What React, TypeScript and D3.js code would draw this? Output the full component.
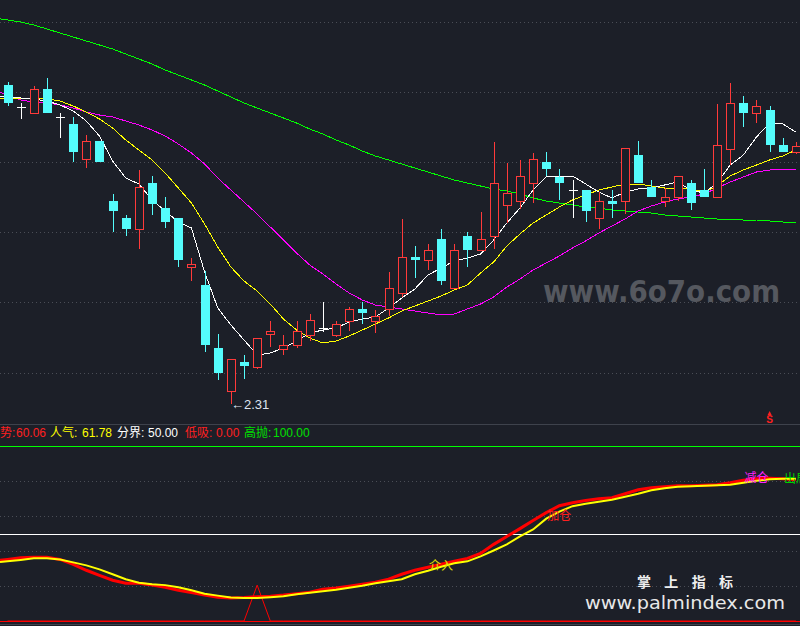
import * as d3 from 'd3';

// 61 daily bars, prices
const OPEN = [2.629, 2.607, 2.601, 2.625, 2.597, 2.590, 2.555, 2.573, 2.513, 2.496, 2.485, 2.531, 2.506, 2.496, 2.447, 2.429, 2.366, 2.323, 2.352, 2.347, 2.380, 2.365, 2.369, 2.379, 2.386, 2.379, 2.393, 2.405, 2.393, 2.405, 2.421, 2.457, 2.454, 2.475, 2.426, 2.478, 2.464, 2.478, 2.509, 2.513, 2.531, 2.552, 2.537, 2.524, 2.524, 2.496, 2.513, 2.513, 2.559, 2.527, 2.513, 2.517, 2.531, 2.524, 2.517, 2.565, 2.611, 2.601, 2.604, 2.569, 2.562];
const HIGH = [2.632, 2.611, 2.628, 2.636, 2.601, 2.597, 2.579, 2.573, 2.520, 2.499, 2.544, 2.538, 2.517, 2.496, 2.456, 2.443, 2.380, 2.355, 2.359, 2.376, 2.393, 2.379, 2.393, 2.400, 2.412, 2.393, 2.407, 2.412, 2.404, 2.442, 2.495, 2.468, 2.470, 2.485, 2.470, 2.482, 2.502, 2.572, 2.551, 2.554, 2.561, 2.562, 2.545, 2.534, 2.524, 2.522, 2.524, 2.566, 2.573, 2.534, 2.526, 2.538, 2.534, 2.545, 2.610, 2.631, 2.618, 2.614, 2.608, 2.576, 2.572];
const LOW = [2.608, 2.595, 2.601, 2.601, 2.576, 2.552, 2.546, 2.552, 2.482, 2.478, 2.465, 2.499, 2.486, 2.447, 2.433, 2.362, 2.334, 2.310, 2.335, 2.345, 2.367, 2.359, 2.366, 2.373, 2.382, 2.377, 2.383, 2.390, 2.381, 2.398, 2.417, 2.436, 2.444, 2.429, 2.426, 2.447, 2.464, 2.465, 2.491, 2.505, 2.511, 2.538, 2.514, 2.496, 2.492, 2.485, 2.496, 2.500, 2.531, 2.517, 2.507, 2.513, 2.504, 2.517, 2.517, 2.549, 2.587, 2.591, 2.562, 2.562, 2.560];
const CLOSE = [2.611, 2.607, 2.625, 2.601, 2.597, 2.562, 2.573, 2.552, 2.503, 2.485, 2.527, 2.510, 2.492, 2.454, 2.450, 2.369, 2.341, 2.355, 2.348, 2.376, 2.383, 2.369, 2.383, 2.394, 2.386, 2.390, 2.405, 2.401, 2.398, 2.426, 2.457, 2.454, 2.464, 2.433, 2.464, 2.464, 2.475, 2.531, 2.521, 2.538, 2.555, 2.545, 2.531, 2.524, 2.503, 2.513, 2.510, 2.566, 2.531, 2.517, 2.517, 2.538, 2.511, 2.517, 2.569, 2.611, 2.601, 2.608, 2.569, 2.562, 2.568];

// moving averages
const MA5 = [2.617, 2.616, 2.615, 2.613, 2.609, 2.603, 2.593, 2.578, 2.553, 2.536, 2.530, 2.514, 2.503, 2.492, 2.486, 2.442, 2.406, 2.389, 2.374, 2.359, 2.361, 2.366, 2.373, 2.381, 2.384, 2.386, 2.392, 2.395, 2.397, 2.406, 2.416, 2.425, 2.439, 2.446, 2.453, 2.456, 2.460, 2.474, 2.491, 2.506, 2.524, 2.537, 2.538, 2.538, 2.530, 2.522, 2.516, 2.522, 2.525, 2.526, 2.529, 2.532, 2.524, 2.521, 2.531, 2.549, 2.559, 2.577, 2.591, 2.590, 2.582];
const MA10 = [2.616, 2.616, 2.616, 2.615, 2.613, 2.608, 2.602, 2.595, 2.586, 2.574, 2.564, 2.554, 2.541, 2.526, 2.511, 2.490, 2.467, 2.447, 2.433, 2.423, 2.410, 2.395, 2.384, 2.376, 2.371, 2.373, 2.378, 2.384, 2.390, 2.396, 2.403, 2.408, 2.413, 2.418, 2.424, 2.429, 2.441, 2.452, 2.468, 2.480, 2.491, 2.499, 2.507, 2.514, 2.519, 2.524, 2.527, 2.530, 2.530, 2.528, 2.526, 2.526, 2.525, 2.522, 2.528, 2.538, 2.544, 2.549, 2.554, 2.558, 2.564];
const MA20 = [2.619, 2.614, 2.612, 2.611, 2.609, 2.606, 2.602, 2.599, 2.597, 2.593, 2.589, 2.584, 2.578, 2.570, 2.561, 2.550, 2.536, 2.524, 2.512, 2.500, 2.487, 2.474, 2.461, 2.449, 2.440, 2.430, 2.421, 2.414, 2.409, 2.407, 2.405, 2.403, 2.401, 2.399, 2.400, 2.405, 2.410, 2.417, 2.427, 2.435, 2.444, 2.451, 2.458, 2.466, 2.473, 2.481, 2.488, 2.495, 2.503, 2.508, 2.512, 2.515, 2.517, 2.520, 2.526, 2.532, 2.537, 2.542, 2.544, 2.545, 2.545];
const MA60 = [2.694, 2.692, 2.689, 2.685, 2.681, 2.677, 2.673, 2.669, 2.665, 2.660, 2.655, 2.650, 2.644, 2.639, 2.634, 2.629, 2.623, 2.617, 2.611, 2.606, 2.601, 2.596, 2.591, 2.585, 2.580, 2.574, 2.569, 2.563, 2.558, 2.554, 2.550, 2.546, 2.542, 2.538, 2.534, 2.531, 2.528, 2.525, 2.523, 2.520, 2.516, 2.513, 2.511, 2.509, 2.507, 2.506, 2.504, 2.503, 2.502, 2.501, 2.499, 2.498, 2.497, 2.496, 2.495, 2.495, 2.494, 2.494, 2.493, 2.492, 2.491];

// indicator panel (0..100)
const TREND = [35.2, 36.1, 36.4, 36.4, 35.2, 32.4, 29.0, 26.1, 23.3, 21.6, 21.6, 20.5, 19.3, 17.6, 16.2, 14.8, 13.6, 13.1, 13.4, 13.9, 14.2, 14.8, 15.6, 16.5, 18.2, 18.8, 19.9, 21.0, 22.2, 23.9, 26.7, 29.0, 30.7, 32.4, 34.1, 35.8, 38.6, 43.8, 48.3, 52.8, 57.4, 61.9, 65.9, 67.6, 68.8, 69.9, 70.5, 72.7, 75.0, 76.1, 76.7, 77.3, 77.3, 77.6, 77.8, 79.0, 80.4, 81.3, 81.5, 81.3, 80.7];
const POPULARITY = [34.1, 34.9, 35.8, 35.8, 35.2, 33.5, 31.8, 29.5, 26.7, 23.9, 21.9, 21.0, 20.5, 19.3, 17.6, 15.6, 14.5, 13.4, 13.1, 13.1, 13.6, 14.2, 15.3, 16.2, 17.0, 17.9, 19.0, 20.2, 21.6, 22.7, 23.9, 26.7, 28.7, 31.0, 33.0, 34.1, 36.9, 40.3, 43.8, 48.3, 52.3, 58.5, 62.5, 65.6, 67.0, 68.2, 69.3, 71.0, 72.7, 74.7, 75.9, 76.7, 77.0, 77.3, 77.6, 77.8, 79.0, 80.1, 81.0, 81.3, 81.3];
const BUY_SIGNAL = [0, 0, 0, 0, 0, 0, 0, 0, 0, 0, 0, 0, 0, 0, 0, 0, 0, 0, 0, 20.5, 0, 0, 0, 0, 0, 0, 0, 0, 0, 0, 0, 0, 0, 0, 0, 0, 0, 0, 0, 0, 0, 0, 0, 0, 0, 0, 0, 0, 0, 0, 0, 0, 0, 0, 0, 0, 0, 0, 0, 0, 0];

const LEGEND_NAMES = ['势', '人气', '分界', '低吸', '高抛'];
const LEGEND_VALUES = ['60.06', '61.78', '50.00', '0.00', '100.00'];
const LEVELS = [50, 0, 100]; // 分界, 低吸, 高抛
const IND_GRID = [20, 40, 60, 80];
const PRICE_GRID = [2.692, 2.622, 2.552, 2.482, 2.412, 2.341];

const SIGNAL_TEXT = ['介入', '加仓', '减仓', '出局'];
const SIGNAL_AT = [33, 42, 57, 60];
const SELL_AT = 58;
const LOW_IDX = 17;

const BG = '#1c1f28';
const UP = '#ff3a3a';
const DOWN = '#54fcfc';
const W = 800;
const H = 626;

const x = d3.scaleLinear().domain([0, 60]).range([7.5, 795.9]);
const y = d3.scaleLinear().domain([2.31, 2.714]).range([404, 0]);
const yi = d3.scaleLinear().domain([0, 100]).range([621, 446]);

const px = (v: number) => Math.round(v) + 0.5;

// line through the points, continued back to the left edge along its first segment
function seriesPath(arr: number[], sy: (v: number) => number) {
  const pts: [number, number][] = arr.map((v, i) => [x(i), sy(v)]);
  const [[x0, y0], [x1, y1]] = pts;
  pts.unshift([0, y0 - ((y1 - y0) * x0) / (x1 - x0)]);
  return d3.line()(pts) ?? '';
}

function Candle({ i }: { i: number }) {
  const cx = Math.round(x(i));
  const o = OPEN[i], c = CLOSE[i];
  const top = Math.round(y(Math.max(o, c)));
  const bot = Math.round(y(Math.min(o, c)));
  const hi = Math.round(y(HIGH[i]));
  const lo = Math.round(y(LOW[i]));
  if (o === c) {
    return (
      <g stroke="#ffffff" shapeRendering="crispEdges">
        <line x1={cx + 0.5} x2={cx + 0.5} y1={hi} y2={lo} />
        <line x1={cx - 4} x2={cx + 5} y1={top + 0.5} y2={top + 0.5} />
      </g>
    );
  }
  if (c > o) {
    return (
      <g stroke={UP} shapeRendering="crispEdges">
        <line x1={cx + 0.5} x2={cx + 0.5} y1={hi} y2={top} />
        <line x1={cx + 0.5} x2={cx + 0.5} y1={bot} y2={lo} />
        <rect x={cx - 3.5} y={top + 0.5} width={8} height={Math.max(1, bot - top)} fill={BG} />
      </g>
    );
  }
  return (
    <g shapeRendering="crispEdges">
      <line x1={cx + 0.5} x2={cx + 0.5} y1={hi} y2={lo} stroke={DOWN} />
      <rect x={cx - 4} y={top} width={9} height={Math.max(1, bot - top)} fill={DOWN} />
    </g>
  );
}

export default function App() {
  const idx = d3.range(OPEN.length);
  const signalPath = d3.line<number>().x(i => x(i)).y(i => yi(BUY_SIGNAL[i]))(idx) ?? '';

  const legendX = [0, 50, 117, 185, 244];
  const valueX = [16, 82, 148, 216, 273];
  const legendColor = ['#ff2020', '#ffff00', '#ffffff', '#ff2020', '#00e000'];
  const levelColor = ['#ffffff', '#ff0000', '#00ff00'];
  const sigColor = ['#e0e000', '#ff2020', '#ff20ff', '#00d000'];
  const sigSeries = [POPULARITY, TREND, TREND, TREND];
  const sigDy = [0, 11, 0, 0];

  const lowX = Math.round(x(LOW_IDX));
  const lowY = Math.round(y(LOW[LOW_IDX]));
  const sellX = x(SELL_AT);

  return (
    <svg width={W} height={H} style={{ position: 'fixed', left: 0, top: 0, display: 'block' }}
      fontFamily="'Liberation Sans', 'Noto Sans CJK SC', sans-serif">
      <rect width={W} height={H} fill={BG} />

      {/* grid */}
      {PRICE_GRID.map(p => (
        <line key={p} x1={0} x2={W} y1={px(y(p))} y2={px(y(p))} stroke="#4a4d56" strokeDasharray="1 3" />
      ))}
      {IND_GRID.map(v => (
        <line key={v} x1={0} x2={W} y1={px(yi(v))} y2={px(yi(v))} stroke="#4a4d56" strokeDasharray="1 3" />
      ))}
      <line x1={0} x2={W} y1={424.5} y2={424.5} stroke="#3e424c" />
      <line x1={0} x2={W} y1={624.5} y2={624.5} stroke="#3e424c" />

      {/* watermark */}
      <text x={543} y={302} fontFamily="'DejaVu Sans', sans-serif" fontWeight="bold" fontSize={30}
        fill="#55585f" textLength={237} lengthAdjust="spacingAndGlyphs">www.6o7o.com</text>

      {/* moving averages */}
      <g fill="none" strokeWidth={1} shapeRendering="crispEdges">
        <path d={seriesPath(MA60, y)} stroke="#00ff00" />
        <path d={seriesPath(MA20, y)} stroke="#ff00ff" />
        <path d={seriesPath(MA10, y)} stroke="#ffff00" />
        <path d={seriesPath(MA5, y)} stroke="#ffffff" />
      </g>

      {/* candles */}
      {idx.map(i => <Candle key={i} i={i} />)}

      {/* lowest price mark */}
      <text x={lowX} y={lowY + 5} fontSize={13} fill="#dde4f0">←2.31</text>

      {/* sell mark */}
      <path d={`M${sellX - 2},415 L${sellX},411 L${sellX + 2},415 Z`} fill="#ff2020" />
      <text x={sellX} y={423} fontSize={10} fontWeight="bold" fill="#ff2020" textAnchor="middle">S</text>

      {/* indicator title */}
      {LEGEND_NAMES.map((n, k) => (
        <g key={n} fontSize={12} fill={legendColor[k]}>
          <text x={legendX[k]} y={437}>{n}:</text>
          <text x={valueX[k]} y={437}>{LEGEND_VALUES[k]}</text>
        </g>
      ))}

      {/* indicator levels */}
      {LEVELS.map((v, k) => (
        <line key={v} x1={0} x2={W} y1={px(yi(v))} y2={px(yi(v))} stroke={levelColor[k]} shapeRendering="crispEdges" />
      ))}
      <path d={signalPath} fill="none" stroke="#ff0000" strokeWidth={1} />

      {/* indicator lines */}
      <path d={seriesPath(TREND, yi)} fill="none" stroke="#ff0000" strokeWidth={3} />
      <path d={seriesPath(POPULARITY, yi)} fill="none" stroke="#ffff00" strokeWidth={2} />

      {SIGNAL_TEXT.map((t, k) => (
        <text key={t} x={x(SIGNAL_AT[k])} y={yi(sigSeries[k][SIGNAL_AT[k]]) + sigDy[k]} fontSize={12}
          fill={sigColor[k]} textAnchor="middle" dominantBaseline="middle"
          fontFamily="'Noto Sans CJK SC', sans-serif">{t}</text>
      ))}

      {/* site watermark */}
      <text x={637} y={587} fontSize={14} fontWeight="bold" fill="#eeeeee" textLength={96}
        lengthAdjust="spacing" fontFamily="'Noto Sans CJK SC', sans-serif">掌上指标</text>
      <text x={585} y={609} fontSize={18} fill="#e8e8e8" textLength={200}
        lengthAdjust="spacingAndGlyphs" fontFamily="'DejaVu Sans', sans-serif">www.palmindex.com</text>
    </svg>
  );
}
